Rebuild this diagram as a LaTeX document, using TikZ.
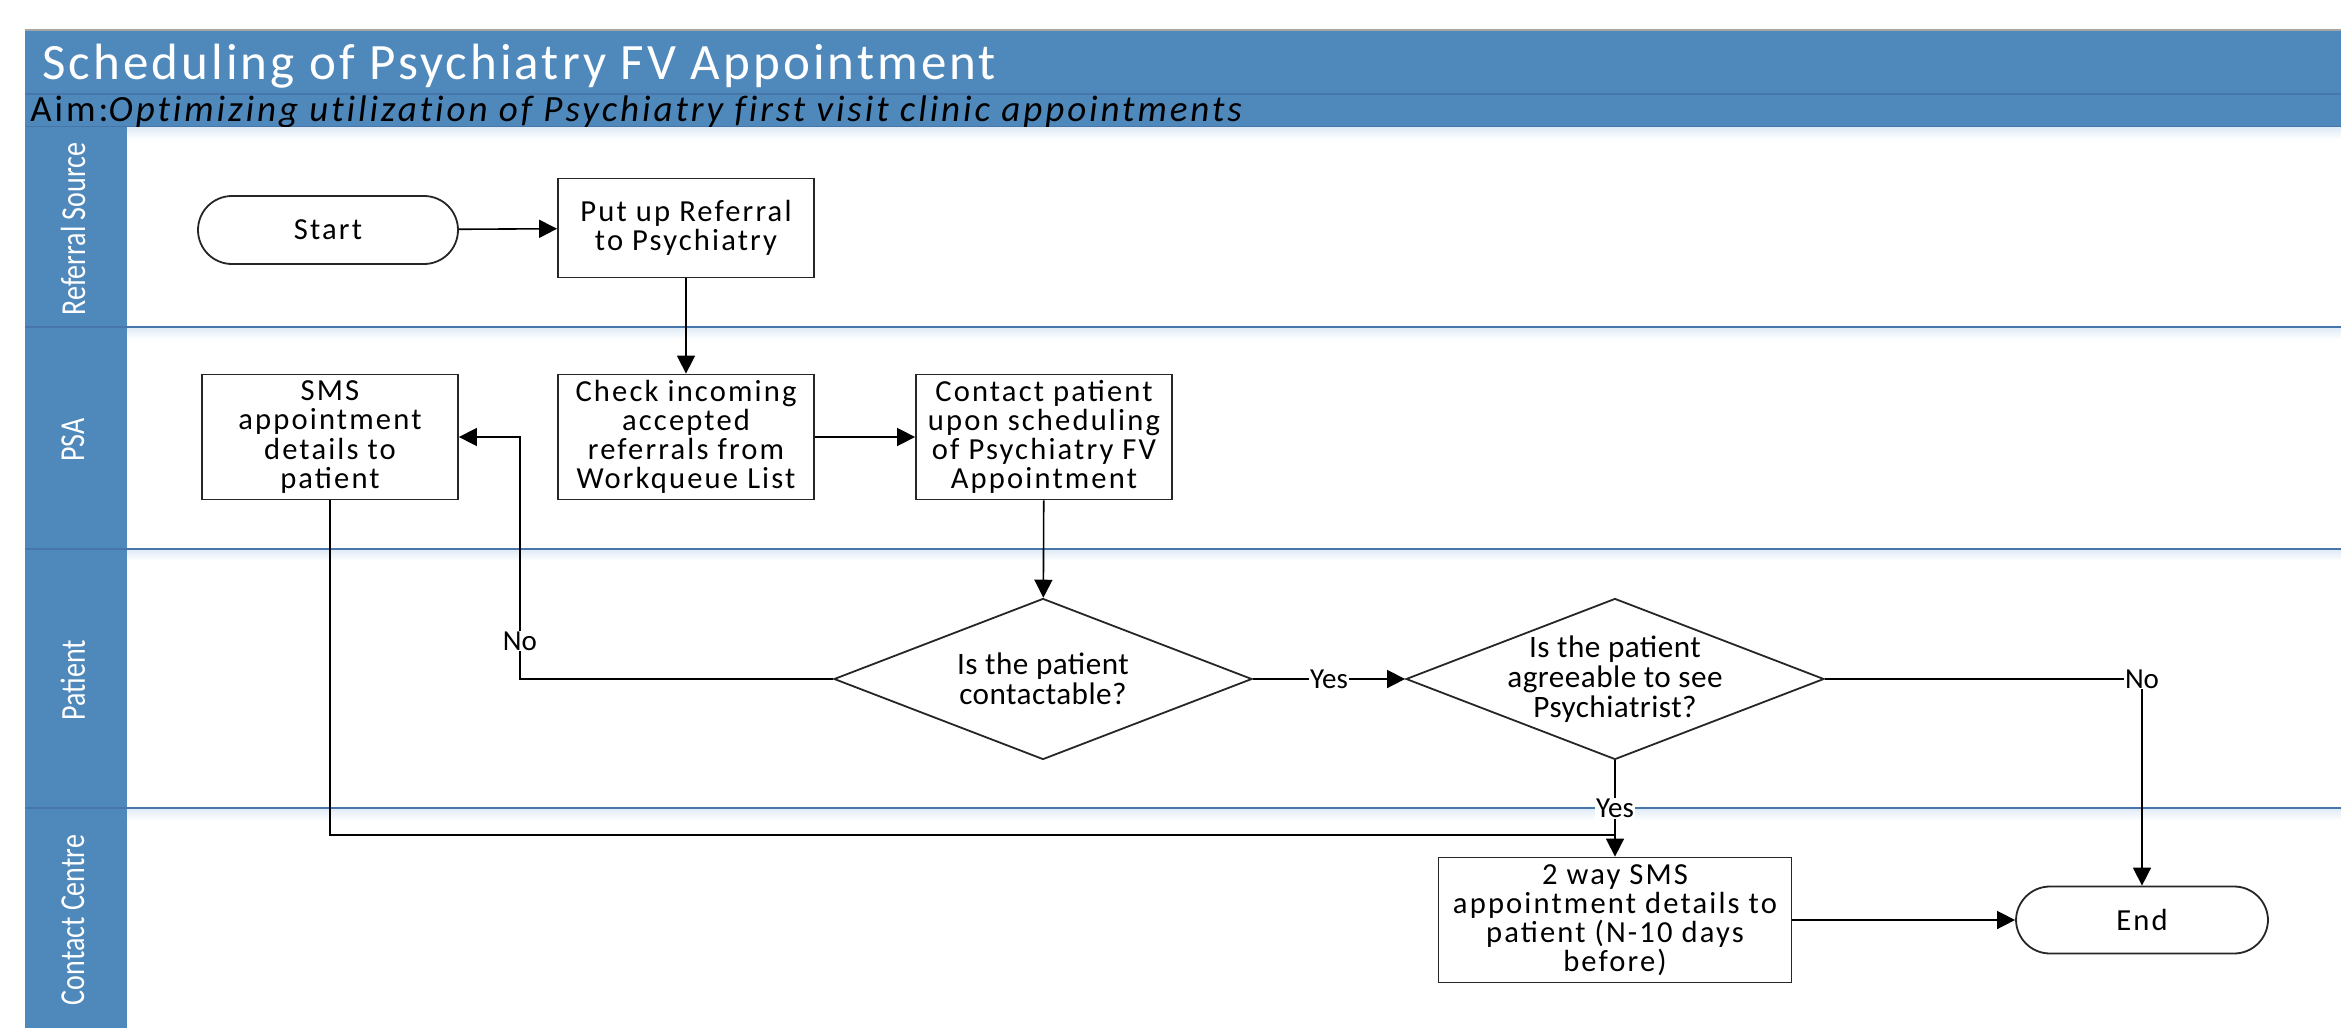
\documentclass[tikz,border=0pt]{standalone}
\usepackage{fontspec}
\setmainfont{Carlito}
\newfontfamily\bxfont[LetterSpace=7]{Carlito}
\newfontfamily\ttlfont[LetterSpace=6]{Carlito}
\newfontfamily\aimfont[LetterSpace=8,Ligatures=NoCommon]{Carlito}
\newfontfamily\dfont[LetterSpace=1.5]{Carlito}
\usetikzlibrary{shapes.geometric,arrows.meta}
\definecolor{hdr}{RGB}{79,136,187}
\definecolor{sepc}{RGB}{72,118,170}
\definecolor{shadec}{RGB}{222,234,246}
\newcommand{\cond}[1]{\scalebox{0.8}[1]{#1}}
\begin{document}
\begin{tikzpicture}[x=0.5pt,y=-0.5pt,
  box/.style={draw=black!85, line width=0.9pt, fill=white, minimum width=128pt, minimum height=62.5pt, align=center, inner sep=1pt, font=\bxfont\fontsize{15.3}{14.6}\selectfont},
  term/.style={draw=black!85, line width=0.9pt, fill=white, rounded corners=17pt, minimum width=128pt, minimum height=34pt, font=\bxfont\fontsize{15.3}{14.6}\selectfont},
  dec/.style={diamond, draw=black!85, line width=0.9pt, fill=white, aspect=2.6, minimum width=209pt, minimum height=80.5pt, inner sep=-4pt, align=center, font=\dfont\fontsize{15.6}{15}\selectfont},
  arr/.style={line width=0.8pt, -{Triangle[length=9pt,width=9pt]}},
  conn/.style={line width=0.8pt},
  lbl/.style={fill=white, inner sep=0.5pt, font=\fontsize{14.5}{15}\selectfont},
  lane/.style={white, rotate=90, font=\fontsize{17.5}{18}\selectfont},
  sepline/.style={draw=sepc, line width=1pt}
]
\useasboundingbox (0,0) rectangle (2341,1028);
% header
\fill[hdr] (25,30) rectangle (2341,127);
\draw[black!35, line width=0.6pt] (25,30) -- (2341,30);
\draw[sepc, line width=0.8pt] (25,94) -- (2341,94);
\draw[sepc, line width=0.8pt] (25,127) -- (2341,127);
\node[anchor=west, white, inner sep=0pt, font=\ttlfont\fontsize{25.5}{28}\selectfont] (title) at (42,66) {Scheduling of Psychiatry FV Appointment};
\node[anchor=west, black, inner sep=0pt, font=\aimfont\fontsize{18.5}{19}\selectfont] (aim) at (30,112) {Aim:\textit{Optimizing utilization of Psychiatry first visit clinic appointments}};
% lane shadows and separators
\foreach \yy in {127,327,549,808}{
  \shade[top color=shadec, bottom color=white] (127,\yy) rectangle (2341,\yy+12);
}
\foreach \yy in {327,549,808}{
  \draw[sepline] (25,\yy) -- (2341,\yy);
}
% lane column
\fill[hdr] (25,127) rectangle (127,1028);
\foreach \yy in {327,549,808}{
  \draw[sepc, line width=1.2pt] (25,\yy) -- (127,\yy);
}
\node[lane] (l1) at (73,229) {\cond{Referral Source}};
\node[lane] (l2) at (73,440) {\cond{PSA}};
\node[lane] (l3) at (73,680) {\cond{Patient}};
\node[lane] (l4) at (73,920) {\cond{Contact Centre}};
% nodes
\node[term, minimum width=130pt] (start) at (328,230) {Start};
\node[box, minimum height=49.5pt] (put) at (686,228) {Put up Referral\\to Psychiatry};
\node[box] (sms) at (330,437) {SMS\\appointment\\details to\\patient};
\node[box] (check) at (686,437) {Check incoming\\accepted\\referrals from\\Workqueue List};
\node[box] (contact) at (1044,437) {Contact patient\\upon scheduling\\of Psychiatry FV\\Appointment};
\node[dec] (d1) at (1043,679) {Is the patient\\contactable?};
\node[dec] (d2) at (1615,679) {Is the patient\\agreeable to see\\Psychiatrist?};
\node[box, minimum width=176.5pt] (two) at (1615,920) {2 way SMS\\appointment details to\\patient (N-10 days\\before)};
\node[term, minimum width=126pt, minimum height=33.5pt] (endn) at (2142,920) {End};
\coordinate (c1) at (520,437);
\coordinate (j) at (1615,835);
% connectors
\draw[arr] (start) -- (put);
\draw[arr] (put) -- (check);
\draw[arr] (check) -- (contact);
\draw[arr] (contact) -- (d1);
\draw[arr] (d1.west) -| (c1) -- (sms.east);
\node[lbl] (no1) at (520,641) {No};
\draw[arr] (d1) -- node[lbl] (yes1) {Yes} (d2);
\draw[arr] (d2.east) -| node[lbl, pos=0.5] (no2) {No} (endn.north);
\draw[conn] (sms.south) |- (j);
\draw[arr] (d2.south) -- node[lbl, pos=0.5] (yes2) {Yes} (two.north);
\draw[arr] (two) -- (endn);
\end{tikzpicture}
\end{document}
